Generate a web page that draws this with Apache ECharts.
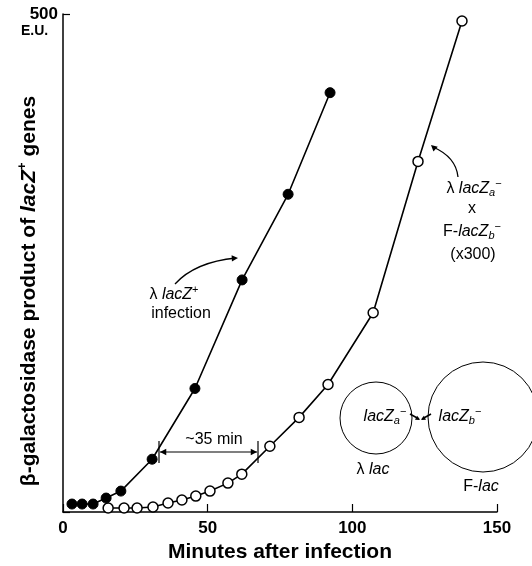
<!DOCTYPE html>
<html>
<head>
<meta charset="utf-8">
<script src="https://cdn.jsdelivr.net/npm/echarts@6/dist/echarts.min.js"></script>
<style>
  html, body { margin: 0; padding: 0; background: #fff; }
  #chart { width: 532px; height: 566px; }
</style>
</head>
<body>
<div id="chart"></div>
<script>
// λ lacZ+ infection (filled circles)
var lacZPlusTime = [3.1, 6.6, 10.4, 14.9, 20.0, 30.8, 45.6, 61.9, 77.8, 92.3];
var lacZPlusValue = [8, 8, 8, 14, 21, 53, 124, 233, 319, 421];

// λ lacZa- x F-lacZb- (x300) (open circles)
var crossTime = [15.6, 21.1, 25.6, 31.1, 36.3, 41.1, 45.9, 50.8, 57.0, 61.8, 71.5, 81.6, 91.6, 107.2, 122.7, 137.9];
var crossValue = [4, 4, 4, 5, 9, 12, 16, 21, 29, 38, 66, 95, 128, 200, 352, 493];

var xTicks = [0, 50, 100, 150];

var FONT = '"Liberation Sans", Arial, sans-serif';

function pairs(xs, ys) {
    var out = [];
    for (var i = 0; i < xs.length; i++) {
        out.push([xs[i], ys[i]]);
    }
    return out;
}

var myChart = echarts.init(document.getElementById('chart'), null, {renderer: 'canvas'});

var txt = {fontFamily: FONT, fontSize: 16, fill: '#000'};
var richBase = {
    n: {fontFamily: FONT, fontSize: 16, color: '#000'},
    i: {fontFamily: FONT, fontSize: 16, fontStyle: 'italic', color: '#000'},
    sup: {fontFamily: FONT, fontSize: 11, color: '#000', padding: [0, 0, 10, 0]},
    sub: {fontFamily: FONT, fontSize: 11, fontStyle: 'italic', color: '#000', padding: [8, 0, 0, 0]}
};

function arrowHead(x, y, ang, size) {
    // small filled triangle pointing along ang
    var s = size || 7;
    var a1 = ang + Math.PI * 0.85, a2 = ang - Math.PI * 0.85;
    return {
        type: 'polygon',
        shape: {points: [[x, y], [x + s * Math.cos(a1), y + s * Math.sin(a1)], [x + s * Math.cos(a2), y + s * Math.sin(a2)]]},
        style: {fill: '#000'}
    };
}

var option = {
    animation: false,
    backgroundColor: '#fff',
    grid: {left: 63, right: 35, top: 14, bottom: 54, outerBoundsMode: 'none', containLabel: false},
    xAxis: {
        type: 'value',
        min: 0,
        max: 150,
        interval: 50,
        name: 'Minutes after infection',
        nameLocation: 'middle',
        nameGap: 29,
        nameTextStyle: {fontFamily: FONT, fontSize: 21, fontWeight: 'bold', color: '#000'},
        axisLine: {lineStyle: {color: '#000', width: 1.5}},
        axisTick: {inside: true, length: 8, lineStyle: {color: '#000', width: 1.2}},
        axisLabel: {
            fontFamily: FONT, fontSize: 17, fontWeight: 'bold', color: '#000', margin: 8,
            formatter: function (v) { return xTicks.indexOf(v) >= 0 ? String(v) : ''; }
        },
        splitLine: {show: false}
    },
    yAxis: {
        type: 'value',
        min: 0,
        max: 500,
        interval: 500,
        axisLine: {lineStyle: {color: '#000', width: 1.5}},
        axisTick: {inside: true, length: 7, lineStyle: {color: '#000', width: 1.2}},
        axisLabel: {
            fontFamily: FONT, fontSize: 17, fontWeight: 'bold', color: '#000', margin: 5,
            formatter: function (v) { return v === 500 ? '500' : ''; }
        },
        splitLine: {show: false}
    },
    series: [
        {
            name: 'lacZ+ infection',
            type: 'line',
            data: pairs(lacZPlusTime, lacZPlusValue),
            symbol: 'circle',
            symbolSize: 10,
            itemStyle: {color: '#000', borderColor: '#000'},
            lineStyle: {color: '#000', width: 1.6},
            z: 3
        },
        {
            name: 'lacZa- x F-lacZb-',
            type: 'line',
            data: pairs(crossTime, crossValue),
            symbol: 'circle',
            symbolSize: 10,
            showAllSymbol: true,
            itemStyle: {color: '#fff', borderColor: '#000', borderWidth: 1.5},
            lineStyle: {color: '#000', width: 1.6},
            z: 2
        }
    ],
    graphic: [
        // y axis title
        {
            type: 'text', x: 29, y: 291, rotation: Math.PI / 2,
            style: {
                text: '{n|β-galactosidase product of }{i|lacZ}{sup|+}{n| genes}',
                align: 'center', verticalAlign: 'middle',
                rich: {
                    n: {fontFamily: FONT, fontSize: 21, fontWeight: 'bold', color: '#000'},
                    i: {fontFamily: FONT, fontSize: 21, fontWeight: 'bold', fontStyle: 'italic', color: '#000'},
                    sup: {fontFamily: FONT, fontSize: 13, fontWeight: 'bold', color: '#000', padding: [0, 0, 13, 0]}
                }
            }
        },
        // E.U. under 500
        {type: 'text', left: 21, top: 24, style: {text: 'E.U.', fontFamily: FONT, fontSize: 14, fontWeight: 'bold', fill: '#000'}},

        // λ lacZ+ infection label
        {type: 'text', x: 174, y: 295, style: {text: '{n|λ }{i|lacZ}{sup|+}', rich: richBase, align: 'center', verticalAlign: 'middle'}},
        {type: 'text', x: 181, y: 314, style: Object.assign({text: 'infection', align: 'center', verticalAlign: 'middle'}, txt)},
        {type: 'bezierCurve', shape: {x1: 175, y1: 284, x2: 236, y2: 258, cpx1: 195, cpy1: 262}, style: {stroke: '#000', lineWidth: 1.3, fill: null}},
        arrowHead(238, 258, -0.05, 7),

        // right label
        {type: 'text', x: 474, y: 189, style: {text: '{n|λ }{i|lacZ}{sub|a}{sup|−}', rich: richBase, align: 'center', verticalAlign: 'middle'}},
        {type: 'text', x: 472, y: 209, style: Object.assign({text: 'x', align: 'center', verticalAlign: 'middle'}, txt)},
        {type: 'text', x: 472, y: 232, style: {text: '{n|F-}{i|lacZ}{sub|b}{sup|−}', rich: richBase, align: 'center', verticalAlign: 'middle'}},
        {type: 'text', x: 473, y: 255, style: Object.assign({text: '(x300)', align: 'center', verticalAlign: 'middle'}, txt)},
        {type: 'bezierCurve', shape: {x1: 458, y1: 177, x2: 433, y2: 147, cpx1: 456, cpy1: 157}, style: {stroke: '#000', lineWidth: 1.3, fill: null}},
        arrowHead(431, 145, -2.4, 7),

        // ~35 min bracket
        {type: 'line', shape: {x1: 159, y1: 441, x2: 159, y2: 463}, style: {stroke: '#000', lineWidth: 1.2}},
        {type: 'line', shape: {x1: 258, y1: 441, x2: 258, y2: 463}, style: {stroke: '#000', lineWidth: 1.2}},
        {type: 'line', shape: {x1: 160, y1: 452, x2: 257, y2: 452}, style: {stroke: '#000', lineWidth: 1.2}},
        arrowHead(160, 452, Math.PI, 7),
        arrowHead(257, 452, 0, 7),
        {type: 'text', x: 214, y: 440, style: Object.assign({text: '~35 min', align: 'center', verticalAlign: 'middle'}, txt)},

        // plasmid circles
        {type: 'circle', shape: {cx: 376, cy: 418, r: 36}, style: {stroke: '#000', lineWidth: 1, fill: null}},
        {type: 'circle', shape: {cx: 483, cy: 417, r: 55}, style: {stroke: '#000', lineWidth: 1, fill: null}},
        {type: 'text', x: 385, y: 417, style: {text: '{i|lacZ}{sub|a}{sup|−}', rich: richBase, align: 'center', verticalAlign: 'middle'}},
        {type: 'text', x: 460, y: 417, style: {text: '{i|lacZ}{sub|b}{sup|−}', rich: richBase, align: 'center', verticalAlign: 'middle'}},
        {type: 'line', shape: {x1: 410, y1: 414, x2: 419, y2: 419}, style: {stroke: '#000', lineWidth: 1.5}},
        {type: 'line', shape: {x1: 431, y1: 414, x2: 422, y2: 419}, style: {stroke: '#000', lineWidth: 1.5}},
        arrowHead(420, 420, 0.5, 5),
        arrowHead(421, 420, Math.PI - 0.5, 5),
        {type: 'text', x: 373, y: 470, style: {text: '{n|λ }{i|lac}', rich: richBase, align: 'center', verticalAlign: 'middle'}},
        {type: 'text', x: 481, y: 487, style: {text: '{n|F-}{i|lac}', rich: richBase, align: 'center', verticalAlign: 'middle'}}
    ]
};

myChart.setOption(option);
</script>
</body>
</html>
